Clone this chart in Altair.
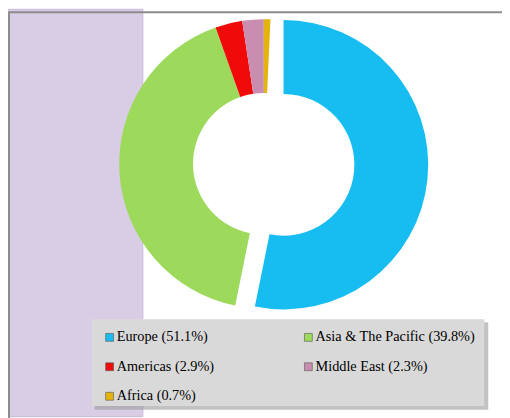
import altair as alt
import pandas as pd

regions = ["Europe", "Asia & The Pacific", "Americas", "Middle East", "Africa"]
shares = [51.1, 39.8, 2.9, 2.3, 0.7]
colors = ["#17BDF0", "#9DDA5B", "#F00A0A", "#C98DAF", "#E4B30C"]
labels = [f"{r} ({s}%)" for r, s in zip(regions, shares)]

df = pd.DataFrame({"region": regions, "share": shares, "label": labels,
                   "order": list(range(len(regions)))})

base = alt.Chart(df).transform_window(
    end="sum(share)", sort=[alt.SortField("order")], frame=[None, 0]
).transform_calculate(start="datum.end - datum.share")

color = alt.Color("label:N", scale=alt.Scale(domain=labels, range=colors),
                  legend=alt.Legend(
                      title=None, orient="none", legendX=96, legendY=324,
                      direction="horizontal", columns=2, columnPadding=88,
                      rowPadding=15, padding=0,
                      symbolType="square", symbolSize=64, symbolStrokeWidth=0.6,
                      symbolStrokeColor="#555555", labelOffset=0,
                      labelFont="Liberation Serif",
                      labelFontSize=14.5,
                      labelColor="#000000", labelLimit=300))

enc = dict(
    theta=alt.Theta("start:Q", stack=None),
    theta2=alt.Theta2("end:Q"),
    color=color,
    x=alt.value(260), y=alt.value(155),
)

others = base.transform_filter("datum.region != 'Europe'").mark_arc(
    radius=147, radius2=72).encode(**enc)
europe = base.transform_filter("datum.region == 'Europe'").mark_arc(
    radius=147, radius2=72, xOffset=20, yOffset=1).encode(**enc)

one = alt.InlineData(values=[{"a": 1}])

band = alt.Chart(one).mark_rect(color="#D9CDE5", stroke="#C7B8DA", strokeWidth=1).encode(
    x=alt.value(-2), x2=alt.value(137), y=alt.value(-2), y2=alt.value(412))
frame = alt.Chart(one).mark_rect(fill=None, stroke="#8C8C8C", strokeWidth=2).encode(
    x=alt.value(1), x2=alt.value(520), y=alt.value(1), y2=alt.value(430))
shadow = alt.Chart(one).mark_rect(color="#9A9A9A", opacity=0.6).encode(
    x=alt.value(88), x2=alt.value(488), y=alt.value(316), y2=alt.value(405))
box = alt.Chart(one).mark_rect(color="#D9D9D9").encode(
    x=alt.value(85), x2=alt.value(484), y=alt.value(313), y2=alt.value(401))

chart = alt.layer(band, frame, others, europe, shadow, box).properties(
    width=502, height=410, padding=0, autosize=alt.AutoSizeParams(type="none")
).configure_view(stroke=None)

chart.save("out.html", embed_options={"renderer": "svg", "actions": False})
